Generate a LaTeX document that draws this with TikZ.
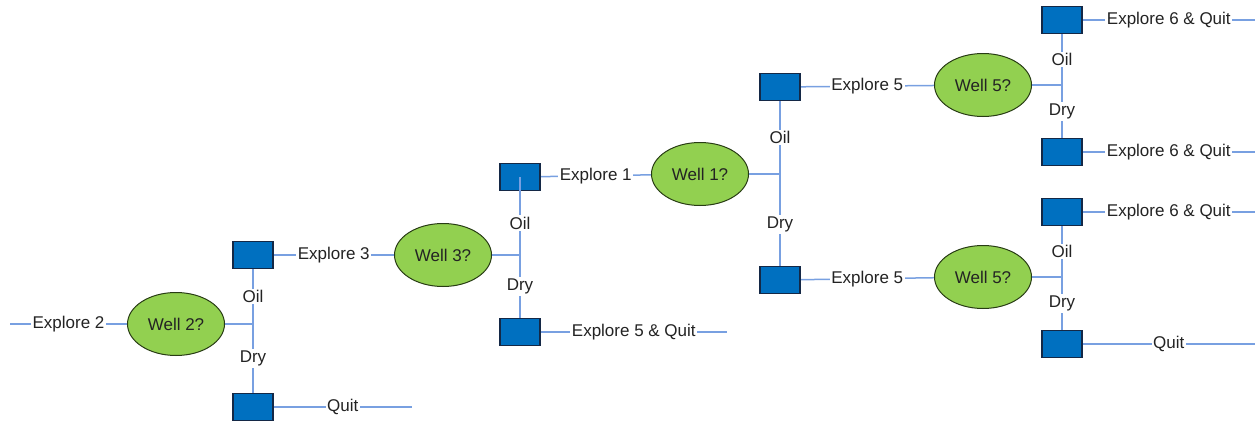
\documentclass[tikz,border=0pt]{standalone}
\usepackage{fontspec}
\setmainfont{Liberation Sans}
\usetikzlibrary{shapes.geometric,backgrounds}
\definecolor{boxblue}{RGB}{0,112,192}
\definecolor{boxedge}{RGB}{20,40,70}
\definecolor{wellgreen}{RGB}{146,208,80}
\definecolor{welledge}{RGB}{40,60,20}
\definecolor{linkblue}{RGB}{120,160,225}
\definecolor{txt}{RGB}{35,35,35}
\begin{document}
\begin{tikzpicture}[x=1pt,y=-1pt,
  font=\fontsize{17}{20}\selectfont,
  decision/.style={rectangle, draw=boxedge, fill=boxblue, line width=1.2pt, minimum width=40pt, minimum height=27pt, inner sep=0pt},
  chance/.style={ellipse, draw=welledge, fill=wellgreen, line width=1pt, minimum width=97pt, minimum height=63pt, inner sep=0pt, text=txt},
  link/.style={draw=linkblue, line width=1.5pt},
  lbl/.style={fill=white, inner sep=1.5pt, text=txt}]
\useasboundingbox (0,0) rectangle (1259,421);
% nodes
\node[chance] (w2) at (176,324) {Well 2?};
\node[decision] (d2a) at (253,255) {};
\node[decision] (d2b) at (253,407) {};
\coordinate (j2) at (253,324);
\coordinate (s2) at (10,324);
\coordinate (e2b) at (412,407);

\node[chance] (w3) at (443,255) {Well 3?};
\node[decision] (d3a) at (520,177) {};
\node[decision] (d3b) at (520,332) {};
\coordinate (j3) at (520,255);
\coordinate (e3b) at (727,332);

\node[chance] (w1) at (700,174) {Well 1?};
\node[decision] (d1a) at (780,87) {};
\node[decision] (d1b) at (780,280) {};
\coordinate (j1) at (780,174);

\node[chance] (w5a) at (983,85) {Well 5?};
\node[decision] (d5a) at (1062,20) {};
\node[decision] (d5b) at (1062,152) {};
\coordinate (j5a) at (1062,85);
\coordinate (e5a) at (1255,20);
\coordinate (e5b) at (1255,152);

\node[chance] (w5b) at (983,277) {Well 5?};
\node[decision] (d5c) at (1062,212) {};
\node[decision] (d5d) at (1062,344) {};
\coordinate (j5b) at (1062,277);
\coordinate (e5c) at (1255,212);
\coordinate (e5d) at (1255,344);

\begin{scope}[on background layer]
% Well 2
\draw[link] (s2) -- node[lbl]{Explore 2} (w2);
\draw[link] (w2) -- (j2);
\draw[link] (d2a) -- node[lbl]{Oil} (j2) -- node[lbl]{Dry} (d2b);
\draw[link] (d2a) -- node[lbl]{Explore 3} (w3);
\draw[link] (d2b) -- node[lbl]{Quit} (e2b);
% Well 3
\draw[link] (w3) -- (j3);
\draw[link] (d3a) -- node[lbl]{Oil} (j3) -- node[lbl]{Dry} (d3b);
\draw[link] (d3a) -- node[lbl]{Explore 1} (w1);
\draw[link] (d3b) -- node[lbl]{Explore 5 \& Quit} (e3b);
% Well 1
\draw[link] (w1) -- (j1);
\draw[link] (d1a) -- node[lbl]{Oil} (j1) -- node[lbl,pos=0.55]{Dry} (d1b);
\draw[link] (d1a) -- node[lbl]{Explore 5} (w5a);
\draw[link] (d1b) -- node[lbl]{Explore 5} (w5b);
% Well 5 (top)
\draw[link] (w5a) -- (j5a);
\draw[link] (d5a) -- node[lbl]{Oil} (j5a) -- node[lbl]{Dry} (d5b);
\draw[link] (d5a) -- node[lbl]{Explore 6 \& Quit} (e5a);
\draw[link] (d5b) -- node[lbl]{Explore 6 \& Quit} (e5b);
% Well 5 (bottom)
\draw[link] (w5b) -- (j5b);
\draw[link] (d5c) -- node[lbl]{Oil} (j5b) -- node[lbl]{Dry} (d5d);
\draw[link] (d5c) -- node[lbl]{Explore 6 \& Quit} (e5c);
\draw[link] (d5d) -- node[lbl]{Quit} (e5d);
\end{scope}
\draw[link] (d3a.center) -- (d3a.south);
\end{tikzpicture}
\end{document}
